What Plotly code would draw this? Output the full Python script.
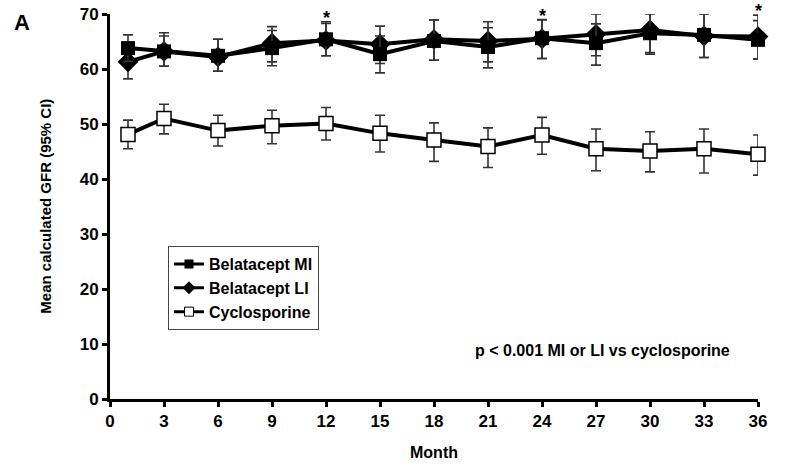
import plotly.graph_objects as go

months = [1, 3, 6, 9, 12, 15, 18, 21, 24, 27, 30, 33, 36]

mi_mean = [63.8, 63.2, 62.4, 63.8, 65.4, 62.7, 65.1, 64.0, 65.6, 64.7, 66.5, 66.2, 65.3]
mi_hi = [66.2, 66.0, 65.4, 67.0, 68.3, 66.0, 68.9, 67.5, 68.9, 68.2, 70.0, 70.1, 68.8]
mi_lo = [61.4, 60.5, 59.6, 60.6, 62.4, 59.3, 61.6, 60.2, 61.9, 60.7, 62.7, 62.1, 61.8]

li_mean = [61.3, 63.2, 62.2, 64.7, 65.2, 64.5, 65.4, 65.1, 65.5, 66.3, 67.1, 66.0, 65.9]
li_hi = [64.5, 66.6, 65.4, 67.7, 68.6, 67.8, 68.9, 68.6, 69.0, 70.0, 71.2, 70.0, 69.8]
li_lo = [58.2, 60.5, 59.6, 61.3, 62.4, 61.0, 61.6, 61.3, 61.9, 62.4, 63.0, 62.1, 61.8]

cy_mean = [48.1, 51.0, 48.8, 49.7, 50.1, 48.3, 47.1, 45.9, 48.0, 45.5, 45.1, 45.5, 44.5]
cy_hi = [50.7, 53.6, 51.6, 52.5, 53.0, 51.6, 50.2, 49.3, 51.2, 49.1, 48.6, 49.1, 48.0]
cy_lo = [45.5, 48.2, 46.0, 46.4, 47.1, 44.9, 43.2, 42.1, 44.5, 41.5, 41.3, 41.1, 40.7]

star_months = [12, 24, 36]

x_ticks = list(range(0, 37, 3))
y_ticks = list(range(0, 71, 10))

FONT = "Liberation Sans, Arial, sans-serif"


def err(mean, hi, lo):
    return dict(type="data", symmetric=False,
                array=[h - m for h, m in zip(hi, mean)],
                arrayminus=[m - l for m, l in zip(mean, lo)],
                color="#333333", thickness=1.6, width=5)


fig = go.Figure()
fig.add_trace(go.Scatter(
    x=months, y=cy_mean, name="Cyclosporine", mode="lines+markers",
    line=dict(color="black", width=4),
    marker=dict(symbol="square", size=14, color="white", line=dict(color="black", width=1.5)),
    error_y=err(cy_mean, cy_hi, cy_lo), cliponaxis=False, showlegend=False))
fig.add_trace(go.Scatter(
    x=months, y=li_mean, name="Belatacept LI", mode="lines+markers",
    line=dict(color="black", width=4),
    marker=dict(symbol="diamond", size=16, color="black"),
    error_y=err(li_mean, li_hi, li_lo), cliponaxis=False, showlegend=False))
fig.add_trace(go.Scatter(
    x=months, y=mi_mean, name="Belatacept MI", mode="lines+markers",
    line=dict(color="black", width=4),
    marker=dict(symbol="square", size=14, color="black"),
    error_y=err(mi_mean, mi_hi, mi_lo), cliponaxis=False, showlegend=False))

# legend entries (order as in reference)
fig.add_trace(go.Scatter(x=[None], y=[None], name="Belatacept MI", mode="lines+markers",
                         line=dict(color="black", width=3),
                         marker=dict(symbol="square", size=9, color="black")))
fig.add_trace(go.Scatter(x=[None], y=[None], name="Belatacept LI", mode="lines+markers",
                         line=dict(color="black", width=3),
                         marker=dict(symbol="diamond", size=10, color="black")))
fig.add_trace(go.Scatter(x=[None], y=[None], name="Cyclosporine", mode="lines+markers",
                         line=dict(color="black", width=3),
                         marker=dict(symbol="square", size=9, color="white",
                                     line=dict(color="black", width=1))))

star_shifts = [-4, -2, 3]
annotations = [
    dict(x=m, y=70, xref="x", yref="y", text="*", showarrow=False,
         font=dict(family=FONT, size=18, color="black", weight="bold"),
         yanchor="middle", yshift=s)
    for m, s in zip(star_months, star_shifts)
]
annotations += [
    dict(x=-0.151, y=1.016, xref="paper", yref="paper", text="A", showarrow=False,
         xanchor="left", yanchor="top", font=dict(family=FONT, size=22, color="black", weight="bold")),
    dict(x=0.76, y=0.125, xref="paper", yref="paper", text="p < 0.001 MI or LI vs cyclosporine",
         showarrow=False, xanchor="center", yanchor="middle",
         font=dict(family=FONT, size=16, color="black", weight="bold")),
    dict(x=0.5, y=-0.14, xref="paper", yref="paper", text="Month", showarrow=False,
         xanchor="center", yanchor="middle",
         font=dict(family=FONT, size=16, color="black", weight="bold")),
    dict(x=-0.1, y=0.5, xref="paper", yref="paper", text="Mean calculated GFR (95% CI)",
         showarrow=False, textangle=-90, xanchor="center", yanchor="middle",
         font=dict(family=FONT, size=15, color="black", weight="bold")),
]

fig.update_layout(
    width=787, height=468,
    margin=dict(l=110, r=29, t=14, b=69, autoexpand=False),
    paper_bgcolor="white", plot_bgcolor="white",
    font=dict(family=FONT, color="black"),
    annotations=annotations,
    legend=dict(x=0.0895, y=0.397, xanchor="left", yanchor="top",
                bordercolor="#444444", borderwidth=1, bgcolor="white",
                font=dict(family=FONT, size=16, color="black", weight="bold"),
                itemwidth=30, tracegroupgap=0),
    xaxis=dict(range=[0, 36], tickmode="array", tickvals=x_ticks, automargin=False,
               showline=True, linecolor="black", linewidth=3,
               ticks="outside", ticklen=5, tickwidth=2.5, tickcolor="black",
               showgrid=False, zeroline=False,
               tickfont=dict(family=FONT, size=17, color="black", weight="bold")),
    yaxis=dict(range=[0, 70], tickmode="array", tickvals=y_ticks, automargin=False,
               showline=True, linecolor="black", linewidth=3,
               ticks="outside", ticklen=5, tickwidth=2.5, tickcolor="black",
               showgrid=False, zeroline=False,
               tickfont=dict(family=FONT, size=17, color="black", weight="bold")),
)

fig.write_html("out.html", config={"displayModeBar": False},
               post_script="document.body.style.margin='0';")
